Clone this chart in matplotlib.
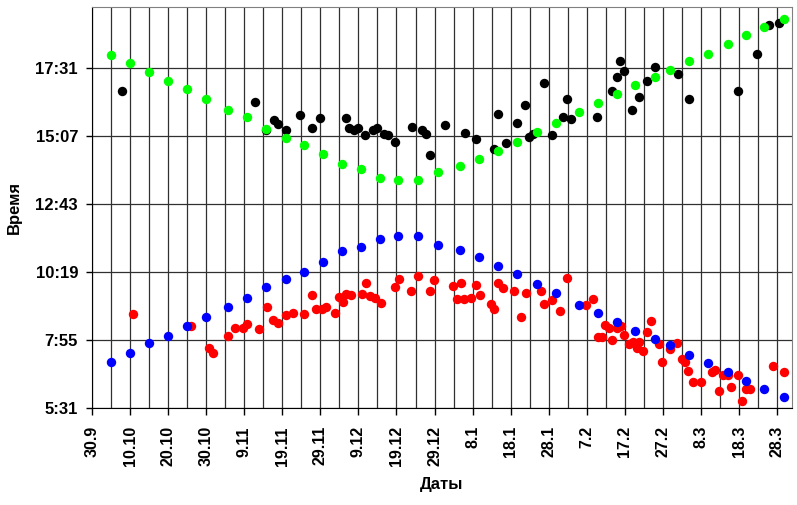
import matplotlib
matplotlib.use("Agg")
import matplotlib.pyplot as plt
from matplotlib.ticker import FixedLocator, FuncFormatter, MultipleLocator

plt.rcParams['font.family'] = ['Liberation Sans', 'DejaVu Sans']

# x = days after 30.9, y = time of day in hours
green_days = [5, 10, 15, 20, 25, 30, 35.7, 40.7, 45.7, 51, 55.7, 60.7, 65.7, 70.7, 75.6, 80.4,
              85.6, 90.9, 96.7, 101.7, 106.7, 111.6, 116.9, 121.9, 127.9, 132.9, 137.9, 142.6,
              147.9, 151.8, 156.8, 161.8, 167, 171.9, 176.6, 181.8]
green_hours = [17.99, 17.70, 17.38, 17.07, 16.78, 16.43, 16.05, 15.79, 15.39, 15.07, 14.80, 14.49,
               14.14, 13.96, 13.66, 13.58, 13.58, 13.87, 14.06, 14.32, 14.61, 14.93, 15.28, 15.58,
               15.98, 16.30, 16.62, 16.94, 17.22, 17.46, 17.78, 18.04, 18.39, 18.69, 18.98, 19.26]

blue_days = green_days
blue_hours = [7.16, 7.46, 7.80, 8.07, 8.40, 8.72, 9.09, 9.39, 9.79, 10.08, 10.34, 10.69,
              11.05, 11.22, 11.50, 11.59, 11.58, 11.27, 11.10, 10.85, 10.55, 10.25, 9.90, 9.58,
              9.17, 8.87, 8.56, 8.25, 7.96, 7.73, 7.41, 7.12, 6.80, 6.47, 6.20, 5.92]

black_days = [8, 42.8, 45.7, 47.8, 48.8, 50.9, 54.7, 57.9, 59.9, 66.7, 67.6, 68.8, 69.9, 71.8,
              73.7, 74.9, 76.7, 77.8, 79.7, 84, 86.8, 87.8, 88.9, 92.7, 98, 100.9, 105.7, 106.7,
              108.9, 111.7, 113.8, 114.9, 115.9, 118.8, 120.9, 123.7, 124.8, 125.8, 132.8, 136.7,
              137.8, 138.8, 139.8, 141.9, 143.8, 145.9, 147.9, 153.9, 156.8, 169.8, 174.7, 177.8,
              180.5]
black_hours = [16.71, 16.33, 15.34, 15.70, 15.54, 15.34, 15.87, 15.42, 15.76, 15.77, 15.42, 15.34,
               15.42, 15.17, 15.33, 15.40, 15.18, 15.17, 14.92, 15.46, 15.34, 15.20, 14.46, 15.53,
               15.24, 15.02, 14.66, 15.90, 14.87, 15.60, 16.22, 15.09, 15.20, 17.01, 15.16, 15.79,
               16.44, 15.74, 15.79, 16.72, 17.20, 17.77, 17.43, 16.06, 16.51, 17.07, 17.56, 17.32,
               16.44, 16.73, 18.02, 19.05, 19.13]

red_days = [10.7, 26, 30.7, 31.9, 35.7, 37.6, 39.7, 40.8, 43.8, 45.9, 47.6, 48.8, 50.9, 52.9,
            55.7, 57.9, 58.8, 60.5, 61.6, 63.8, 65, 65.9, 66.7, 68, 71, 71.9, 73, 74.3, 75.8,
            79.7, 80.7, 83.8, 85.7, 88.8, 89.9, 94.9, 95.8, 96.9, 97.8, 99.7, 100.8, 101.9, 104.7,
            105.7, 106.7, 107.9, 110.9, 112.7, 113.9, 117.9, 118.8, 120.8, 122.9, 124.7, 129.9,
            131.7, 133, 134, 134.8, 135.9, 136.7, 137.8, 138.9, 139.8, 141.1, 142.2, 143.1, 143.8,
            144.8, 145.7, 146.8, 148.9, 149.8, 151.8, 153.8, 154.9, 155.8, 156.6, 157.8, 159.9,
            162.8, 163.8, 164.7, 165.8, 167, 167.8, 169.8, 170.7, 171.8, 173, 178.8, 181.8]
red_hours = [8.85, 8.40, 7.65, 7.48, 8.06, 8.34, 8.34, 8.49, 8.32, 9.09, 8.64, 8.54, 8.81, 8.88,
             8.85, 9.51, 9.01, 9.01, 9.10, 8.87, 9.44, 9.28, 9.54, 9.52, 9.55, 9.95, 9.49, 9.40,
             9.23, 9.81, 10.08, 9.64, 10.19, 9.64, 10.05, 9.84, 9.37, 9.95, 9.37, 9.40, 9.86, 9.51,
             9.19, 9.01, 9.95, 9.76, 9.67, 8.75, 9.60, 9.66, 9.19, 9.32, 8.93, 10.11, 9.17, 9.38,
             8.03, 8.03, 8.44, 8.34, 7.93, 8.34, 8.40, 8.11, 7.79, 7.84, 7.64, 7.84, 7.52, 8.22,
             8.61, 7.78, 7.13, 7.61, 7.81, 7.25, 7.15, 6.84, 6.44, 6.44, 6.79, 6.87, 6.13, 6.67,
             6.67, 6.26, 6.70, 5.78, 6.19, 6.19, 6.99, 6.78]

xtick_days = list(range(0, 181, 10))
xtick_labels = ['30.9', '10.10', '20.10', '30.10', '9.11', '19.11', '29.11', '9.12', '19.12',
                '29.12', '8.1', '18.1', '28.1', '7.2', '17.2', '27.2', '8.3', '18.3', '28.3']

y_min = 0.23 * 24
y_max = 0.82 * 24
y_step = 0.1 * 24


def hhmm(v, pos=None):
    m = int(round(v * 60, 6))
    return "%d:%02d" % (m // 60, m % 60)


fig = plt.figure(figsize=(7.97, 5.05), dpi=100)
ax = fig.add_axes([0.1154, 0.192, 0.8783, 0.794])

ms = 46
ax.scatter(black_days, black_hours, s=ms, color='black', linewidths=0, zorder=3)
ax.scatter(red_days, red_hours, s=ms, color='#ff0000', linewidths=0, zorder=4)
ax.scatter(blue_days, blue_hours, s=ms, color='#0000ff', linewidths=0, zorder=5)
ax.scatter(green_days, green_hours, s=ms, color='#00ff00', linewidths=0, zorder=6)

ax.set_xlim(0, 183.9)
ax.set_ylim(y_min, y_max)

ax.xaxis.set_major_locator(FixedLocator(xtick_days))
ax.set_xticklabels(xtick_labels, rotation=90, fontweight='bold', fontsize=11.5)
ax.xaxis.set_minor_locator(MultipleLocator(5))
ax.yaxis.set_major_locator(FixedLocator([y_min + k * y_step for k in range(6)]))
ax.yaxis.set_major_formatter(FuncFormatter(hhmm))
for t in ax.get_yticklabels():
    t.set_fontweight('bold')
    t.set_fontsize(12)

ax.grid(True, which='minor', axis='x', color='#303030', linewidth=0.9)
ax.grid(True, which='major', axis='both', color='#303030', linewidth=0.9)
ax.set_axisbelow(True)

ax.tick_params(axis='x', which='major', direction='out', length=5, width=1, pad=8)
ax.tick_params(axis='x', which='minor', length=0)
ax.tick_params(axis='y', direction='out', length=4, width=1, pad=6)

for side in ['top', 'right']:
    ax.spines[side].set_color('#808080')
for side in ['left', 'bottom']:
    ax.spines[side].set_color('black')

ax.set_xlabel('Даты', fontweight='bold', fontsize=12, labelpad=8)
ax.set_ylabel('Время', fontweight='bold', fontsize=12, labelpad=10)

fig.savefig('out.png', dpi=100)
